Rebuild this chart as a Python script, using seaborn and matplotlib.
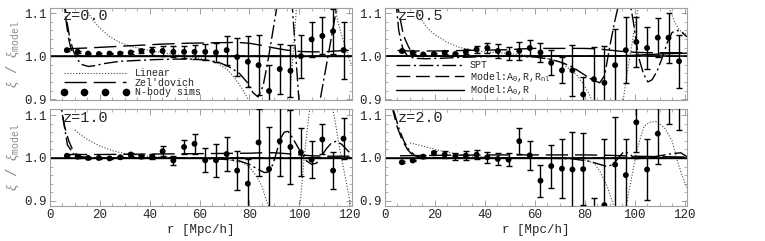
import numpy as np
import matplotlib
matplotlib.use("Agg")
import matplotlib.pyplot as plt
from matplotlib.lines import Line2D
from matplotlib.ticker import MultipleLocator, FormatStrFormatter
import seaborn as sns

# N-body separations (same bins in every panel)
r_sims = [6.8, 11.1, 15.3, 19.6, 23.9, 28.2, 32.4, 36.7, 41.0, 45.2, 49.5, 53.8, 58.0, 62.3,
          66.6, 70.9, 75.1, 79.4, 83.7, 87.9, 92.2, 96.5, 100.7, 105.0, 109.3, 113.6, 117.8]

# ---- z = 0.0 ----
sims_z0 = [1.014, 1.010, 1.006, 1.005, 1.006, 1.006, 1.0085, 1.012, 1.012, 1.012, 1.010, 1.010, 1.010,
           1.010, 1.0085, 1.014, 0.998, 0.987, 0.979, 0.919, 0.970, 0.966, 1.000, 1.039, 1.047, 1.058, 1.014]
err_z0 = [0.002, 0.002, 0.002, 0.002, 0.002, 0.003, 0.004, 0.005, 0.009, 0.012, 0.013, 0.014, 0.017,
          0.018, 0.022, 0.034, 0.044, 0.059, 0.07, 0.06, 0.058, 0.06, 0.05, 0.041, 0.043, 0.052, 0.066]
lin_r_z0 = [13, 14.5, 17, 20, 24, 28, 33, 40, 47, 55, 62, 67, 71, 74, 77, 80, 83, 95, 96, 97.5, 99, 100,
            112, 114, 116, 118, 120, 121]
lin_v_z0 = [1.14, 1.11, 1.085, 1.065, 1.045, 1.032, 1.022, 1.013, 1.006, 1.0, 0.993, 0.984, 0.97, 0.95,
            0.925, 0.895, 0.85, 0.85, 0.88, 1.0, 1.12, 1.15, 1.15, 1.12, 1.07, 1.03, 0.995, 0.98]
spt_r_z0 = [5.5, 6.5, 8, 9.5, 11, 13, 15.5, 18, 22, 28, 35, 42, 50, 58, 64, 68, 72, 76, 79, 81.5, 83.5,
            85.5, 87.5, 89.5, 91.5, 96, 97.3, 99.9, 101, 107, 108.4, 115, 116, 121]
spt_v_z0 = [1.15, 1.09, 1.04, 1.01, 0.992, 0.98, 0.976, 0.978, 0.983, 0.988, 0.99, 0.992, 0.993, 0.993,
            0.99, 0.985, 0.975, 0.96, 0.94, 0.915, 0.905, 0.93, 0.99, 1.06, 1.13, 1.15, 1.11, 0.898, 0.85,
            0.85, 0.898, 1.11, 1.15, 1.15]
zel_r_z0 = [6, 15, 25, 35, 45, 55, 65, 75, 80, 85, 90, 95, 100, 105, 110, 115, 121]
zel_v_z0 = [1.017, 1.019, 1.022, 1.025, 1.028, 1.030, 1.031, 1.032, 1.03, 1.025, 1.019, 1.014, 1.011,
            1.010, 1.010, 1.012, 1.014]
rnl_r_z0 = [5.5, 6.5, 7.5, 8.5, 10, 13, 20, 60, 121]
rnl_v_z0 = [1.14, 1.08, 1.04, 1.015, 1.003, 1.0, 1.0, 1.0, 1.0]
mod_r_z0 = [0, 60, 121]
mod_v_z0 = [1.0, 1.0, 1.0]

# ---- z = 0.5 ----
sims_z05 = [1.012, 1.008, 1.004, 1.005, 1.008, 1.005, 1.010, 1.0155, 1.019, 1.012, 1.006, 1.012, 1.019,
            1.0085, 0.9845, 0.967, 0.967, 0.911, 0.9465, 0.938, 0.979, 1.014, 1.033, 1.019, 1.043, 1.043, 0.988]
err_z05 = [0.002, 0.002, 0.002, 0.002, 0.003, 0.003, 0.006, 0.009, 0.012, 0.017, 0.015, 0.02, 0.019,
           0.021, 0.029, 0.03, 0.06, 0.04, 0.075, 0.085, 0.085, 0.076, 0.058, 0.048, 0.046, 0.058, 0.062]
lin_r_z05 = [12, 14, 17, 20, 25, 30, 35, 40, 50, 60, 65, 70, 74, 77, 80, 82, 84, 94, 95.5, 97, 99, 101,
             103, 112, 114, 116, 118, 121]
lin_v_z05 = [1.12, 1.09, 1.065, 1.05, 1.032, 1.02, 1.014, 1.01, 1.006, 1.0, 0.995, 0.987, 0.97, 0.955,
             0.93, 0.91, 0.88, 0.85, 0.9, 0.96, 1.03, 1.1, 1.15, 1.15, 1.11, 1.08, 1.06, 1.05]
spt_r_z05 = [4, 5.5, 7, 9, 12, 16, 22, 30, 40, 50, 60, 66, 71, 75, 79, 83, 86, 88, 90.3, 92, 94, 98, 99.5,
             101.5, 103.5, 105.3, 107, 109, 111, 113, 115, 117, 119, 121]
spt_v_z05 = [1.15, 1.06, 1.02, 1.0, 0.995, 0.994, 0.995, 0.997, 0.999, 1.0, 0.998, 0.993, 0.985, 0.975,
             0.96, 0.945, 0.938, 0.955, 1.03, 1.08, 1.13, 1.13, 1.08, 1.0, 0.96, 0.94, 0.945, 0.965, 0.995,
             1.03, 1.055, 1.06, 1.055, 1.045]
zel_r_z05 = [5, 10, 20, 30, 40, 50, 55, 60, 70, 80, 85, 90, 95, 100, 105, 110, 115, 121]
zel_v_z05 = [1.013, 1.012, 1.012, 1.013, 1.014, 1.015, 1.017, 1.018, 1.018, 1.018, 1.017, 1.014, 1.011,
             1.009, 1.008, 1.008, 1.008, 1.008]
rnl_r_z05 = [4, 5.3, 7, 8, 9.4, 11, 13, 20, 60, 121]
rnl_v_z05 = [1.15, 1.11, 1.06, 1.04, 1.022, 1.005, 1.0, 1.0, 1.0, 1.0]
mod_r_z05 = [0, 60, 90, 100, 110, 121]
mod_v_z05 = [1.0, 1.0, 1.0, 1.002, 1.005, 1.007]

# ---- z = 1.0 ----
sims_z1 = [1.005, 1.003, 1.000, 1.000, 0.999, 1.0015, 1.008, 1.003, 1.003, 1.0155, 0.994, 1.0255, 1.033,
           0.9945, 0.9945, 1.009, 0.9705, 0.940, 1.036, 0.974, 1.039, 1.0255, 1.013, 0.996, 1.043, 0.9705, 1.045]
err_z1 = [0.002, 0.002, 0.002, 0.002, 0.002, 0.002, 0.003, 0.004, 0.005, 0.012, 0.011, 0.016, 0.023,
          0.028, 0.039, 0.039, 0.045, 0.058, 0.078, 0.097, 0.08, 0.087, 0.056, 0.043, 0.035, 0.043, 0.047]
lin_r_z1 = [10, 12, 15, 20, 25, 30, 35, 45, 55, 65, 72, 77, 80, 82.5, 85, 87.5, 99, 100.5, 102, 103.5,
            105, 112, 114, 116, 118, 120, 121]
lin_v_z1 = [1.065, 1.055, 1.043, 1.028, 1.017, 1.01, 1.006, 1.002, 1.0, 0.998, 0.995, 0.99, 0.98, 0.96,
            0.935, 0.89, 0.85, 0.9, 1.0, 1.08, 1.15, 1.15, 1.1, 1.03, 0.97, 0.91, 0.88]
spt_r_z1 = [5, 7, 10, 15, 20, 30, 40, 50, 60, 70, 76, 80, 83, 86, 87.5, 89.5, 91, 92.5, 94, 95.5, 97, 99,
            101, 103, 105, 107, 109, 111, 113, 115, 117, 119, 121]
spt_v_z1 = [1.1, 1.03, 1.005, 1.0, 1.0, 1.0, 1.0, 1.0, 0.999, 0.997, 0.993, 0.985, 0.975, 0.966, 0.967,
            0.985, 1.015, 1.045, 1.06, 1.062, 1.05, 1.03, 1.01, 0.993, 0.985, 0.988, 1.005, 1.022, 1.035,
            1.039, 1.032, 1.02, 1.008]
zel_r_z1 = [6, 20, 40, 60, 80, 85, 90, 95, 100, 105, 110, 115, 121]
zel_v_z1 = [1.008, 1.008, 1.009, 1.01, 1.011, 1.012, 1.012, 1.01, 1.007, 1.005, 1.004, 1.004, 1.004]
rnl_r_z1 = [4, 4.6, 6, 7.5, 9, 10.7, 13, 20, 121]
rnl_v_z1 = [1.14, 1.112, 1.07, 1.04, 1.02, 1.008, 1.002, 1.0, 1.0]
mod_r_z1 = [0, 60, 121]
mod_v_z1 = [1.0, 1.0, 1.0]

# ---- z = 2.0 ----
sims_z2 = [0.990, 0.994, 1.003, 1.0115, 1.0075, 1.004, 1.0055, 1.0075, 1.0015, 0.9975, 0.996, 1.039,
           1.006, 0.947, 0.981, 0.975, 0.973, 0.974, 0.86, 0.890, 0.9845, 0.960, 1.083, 0.973, 1.0565,
           1.16, 1.14]
err_z2 = [0.002, 0.002, 0.003, 0.005, 0.008, 0.008, 0.01, 0.011, 0.013, 0.015, 0.015, 0.031, 0.033,
          0.037, 0.05, 0.068, 0.087, 0.083, 0.047, 0.153, 0.11, 0.085, 0.07, 0.072, 0.07, 0.08, 0.074]
lin_r_z2 = [10, 15, 20, 25, 30, 35, 45, 55, 65, 75, 80, 83.7, 86, 89, 91, 93, 95, 97, 99, 101, 103.8, 106,
            109, 112, 115, 117, 119, 121]
lin_v_z2 = [1.035, 1.028, 1.02, 1.013, 1.008, 1.004, 1.001, 1.0, 1.0, 0.998, 0.995, 0.988, 0.97, 0.934,
            0.9, 0.86, 0.85, 0.9, 0.96, 1.02, 1.074, 1.083, 1.085, 1.07, 1.04, 0.996, 0.96, 0.93]
spt_r_z2 = [3.5, 5.5, 7.5, 9.5, 12, 15, 20, 40, 60, 75, 82, 86, 89, 91.5, 93.5, 95.7, 98, 100, 105, 110,
            115, 118.5, 121]
spt_v_z2 = [1.11, 1.07, 1.04, 1.02, 1.005, 1.0, 1.0, 1.0, 1.0, 0.998, 0.992, 0.985, 0.98, 0.985, 1.0,
            1.015, 1.01, 0.998, 1.0, 1.005, 1.01, 1.012, 1.003]
zel_r_z2 = [6, 20, 40, 60, 80, 90, 100, 110, 121]
zel_v_z2 = [1.005, 1.006, 1.007, 1.007, 1.007, 1.006, 1.004, 1.003, 1.002]
rnl_r_z2 = [3, 3.3, 5, 7, 9, 11.4, 14, 20, 121]
rnl_v_z2 = [1.12, 1.108, 1.07, 1.04, 1.02, 1.004, 1.001, 1.0, 1.0]
mod_r_z2 = [0, 60, 121]
mod_v_z2 = [1.0, 1.0, 1.0]

panel_labels = ["z=0.0", "z=0.5", "z=1.0", "z=2.0"]

# line styles
LIN = dict(color="#444444", lw=0.8, linestyle=(0, (1, 1.6)))
ZEL = dict(color="black", lw=1.0, linestyle=(0, (16, 5)))
SPT = dict(color="black", lw=1.0, linestyle=(0, (10, 2.5, 1.5, 2.5)))
RNL = dict(color="black", lw=1.0, linestyle=(0, (10, 4)))
MOD = dict(color="black", lw=1.0, linestyle="-")

sns.set_theme(style="ticks")
plt.rcParams["font.family"] = ["Liberation Mono", "DejaVu Sans"]
plt.rcParams["mathtext.fontset"] = "custom"
plt.rcParams["mathtext.rm"] = "Liberation Mono"
plt.rcParams["mathtext.it"] = "Liberation Serif:italic"

fig = plt.figure(figsize=(7.65, 2.41), dpi=100)
W, H = 765.0, 241.0
pos = [
    [50 / W, 1 - 100 / H, 301.5 / W, 92 / H],
    [385 / W, 1 - 100 / H, 302 / W, 92 / H],
    [50 / W, 1 - 206 / H, 301.5 / W, 97 / H],
    [385 / W, 1 - 206 / H, 302 / W, 97 / H],
]
ylims = [(0.898, 1.112), (0.898, 1.112), (0.888, 1.114), (0.888, 1.114)]

panels = [
    (sims_z0, err_z0, lin_r_z0, lin_v_z0, spt_r_z0, spt_v_z0, zel_r_z0, zel_v_z0, rnl_r_z0, rnl_v_z0, mod_r_z0, mod_v_z0),
    (sims_z05, err_z05, lin_r_z05, lin_v_z05, spt_r_z05, spt_v_z05, zel_r_z05, zel_v_z05, rnl_r_z05, rnl_v_z05, mod_r_z05, mod_v_z05),
    (sims_z1, err_z1, lin_r_z1, lin_v_z1, spt_r_z1, spt_v_z1, zel_r_z1, zel_v_z1, rnl_r_z1, rnl_v_z1, mod_r_z1, mod_v_z1),
    (sims_z2, err_z2, lin_r_z2, lin_v_z2, spt_r_z2, spt_v_z2, zel_r_z2, zel_v_z2, rnl_r_z2, rnl_v_z2, mod_r_z2, mod_v_z2),
]

frame_col = "#a0a0a0"
axes = []
for i, (sims, err, lr, lv, sr, sv, zr, zv, nr, nv, mr, mv) in enumerate(panels):
    ax = fig.add_axes(pos[i])
    axes.append(ax)
    ax.axhline(1.0, color="black", lw=1.1, zorder=1)
    sns.lineplot(x=lr, y=lv, ax=ax, sort=False, estimator=None, **LIN)
    sns.lineplot(x=zr, y=zv, ax=ax, sort=False, estimator=None, **ZEL)
    sns.lineplot(x=sr, y=sv, ax=ax, sort=False, estimator=None, **SPT)
    sns.lineplot(x=nr, y=nv, ax=ax, sort=False, estimator=None, **RNL)
    sns.lineplot(x=mr, y=mv, ax=ax, sort=False, estimator=None, **MOD)
    ax.errorbar(r_sims, sims, yerr=err, fmt="none", ecolor="black", elinewidth=1.0,
                capsize=2.2, capthick=1.0, zorder=3)
    sns.scatterplot(x=r_sims, y=sims, ax=ax, color="black", s=18, edgecolor="none", zorder=4)

    ax.set_xlim(0, 121)
    ax.set_ylim(*ylims[i])
    ax.xaxis.set_major_locator(MultipleLocator(20))
    ax.xaxis.set_minor_locator(MultipleLocator(5))
    ax.yaxis.set_major_locator(MultipleLocator(0.1))
    ax.yaxis.set_minor_locator(MultipleLocator(0.02))
    ax.tick_params(which="both", direction="in", top=True, right=True, color=frame_col,
                   labelsize=9, pad=2.5)
    ax.tick_params(which="major", length=4, width=0.7)
    ax.tick_params(which="minor", length=2, width=0.6)
    ax.yaxis.set_major_formatter(FormatStrFormatter("%.1f"))
    for sp in ax.spines.values():
        sp.set_color(frame_col)
        sp.set_linewidth(0.8)
    if i < 2:
        ax.set_xticklabels([])
    else:
        ax.set_xlabel("r [Mpc/h]", fontsize=9, labelpad=2)
    ax.set_ylabel("")
    ax.text(0.043, 0.91, panel_labels[i], transform=ax.transAxes, fontsize=11,
            ha="left", va="center")

for ax in (axes[0], axes[2]):
    ax.set_ylabel(r"$\xi$ / $\xi_{\rm model}$", fontsize=10, color="#888888")
    ax.yaxis.set_label_coords(-0.092, 0.5)

h_lin = Line2D([], [], **LIN)
h_zel = Line2D([], [], **ZEL)
h_sims = Line2D([], [], ls="none", marker="o", ms=4.5, color="black")
leg_kw = dict(loc="lower left", bbox_to_anchor=(0.035, 0.03), frameon=False, fontsize=7.2,
              handlelength=6.8, handletextpad=0.6, labelspacing=-0.05, borderpad=0,
              borderaxespad=0)
axes[0].legend([h_lin, h_zel, h_sims], ["Linear", "Zel'dovich", "N-body sims"], numpoints=4, **leg_kw)

h_spt = Line2D([], [], **SPT)
h_rnl = Line2D([], [], **RNL)
h_mod = Line2D([], [], **MOD)
axes[1].legend([h_spt, h_rnl, h_mod],
               ["SPT", r"Model:$\rm A_0$,R,$\rm R_{nl}$", r"Model:$\rm A_0$,R"], **leg_kw)

fig.savefig("out.png", dpi=100)
